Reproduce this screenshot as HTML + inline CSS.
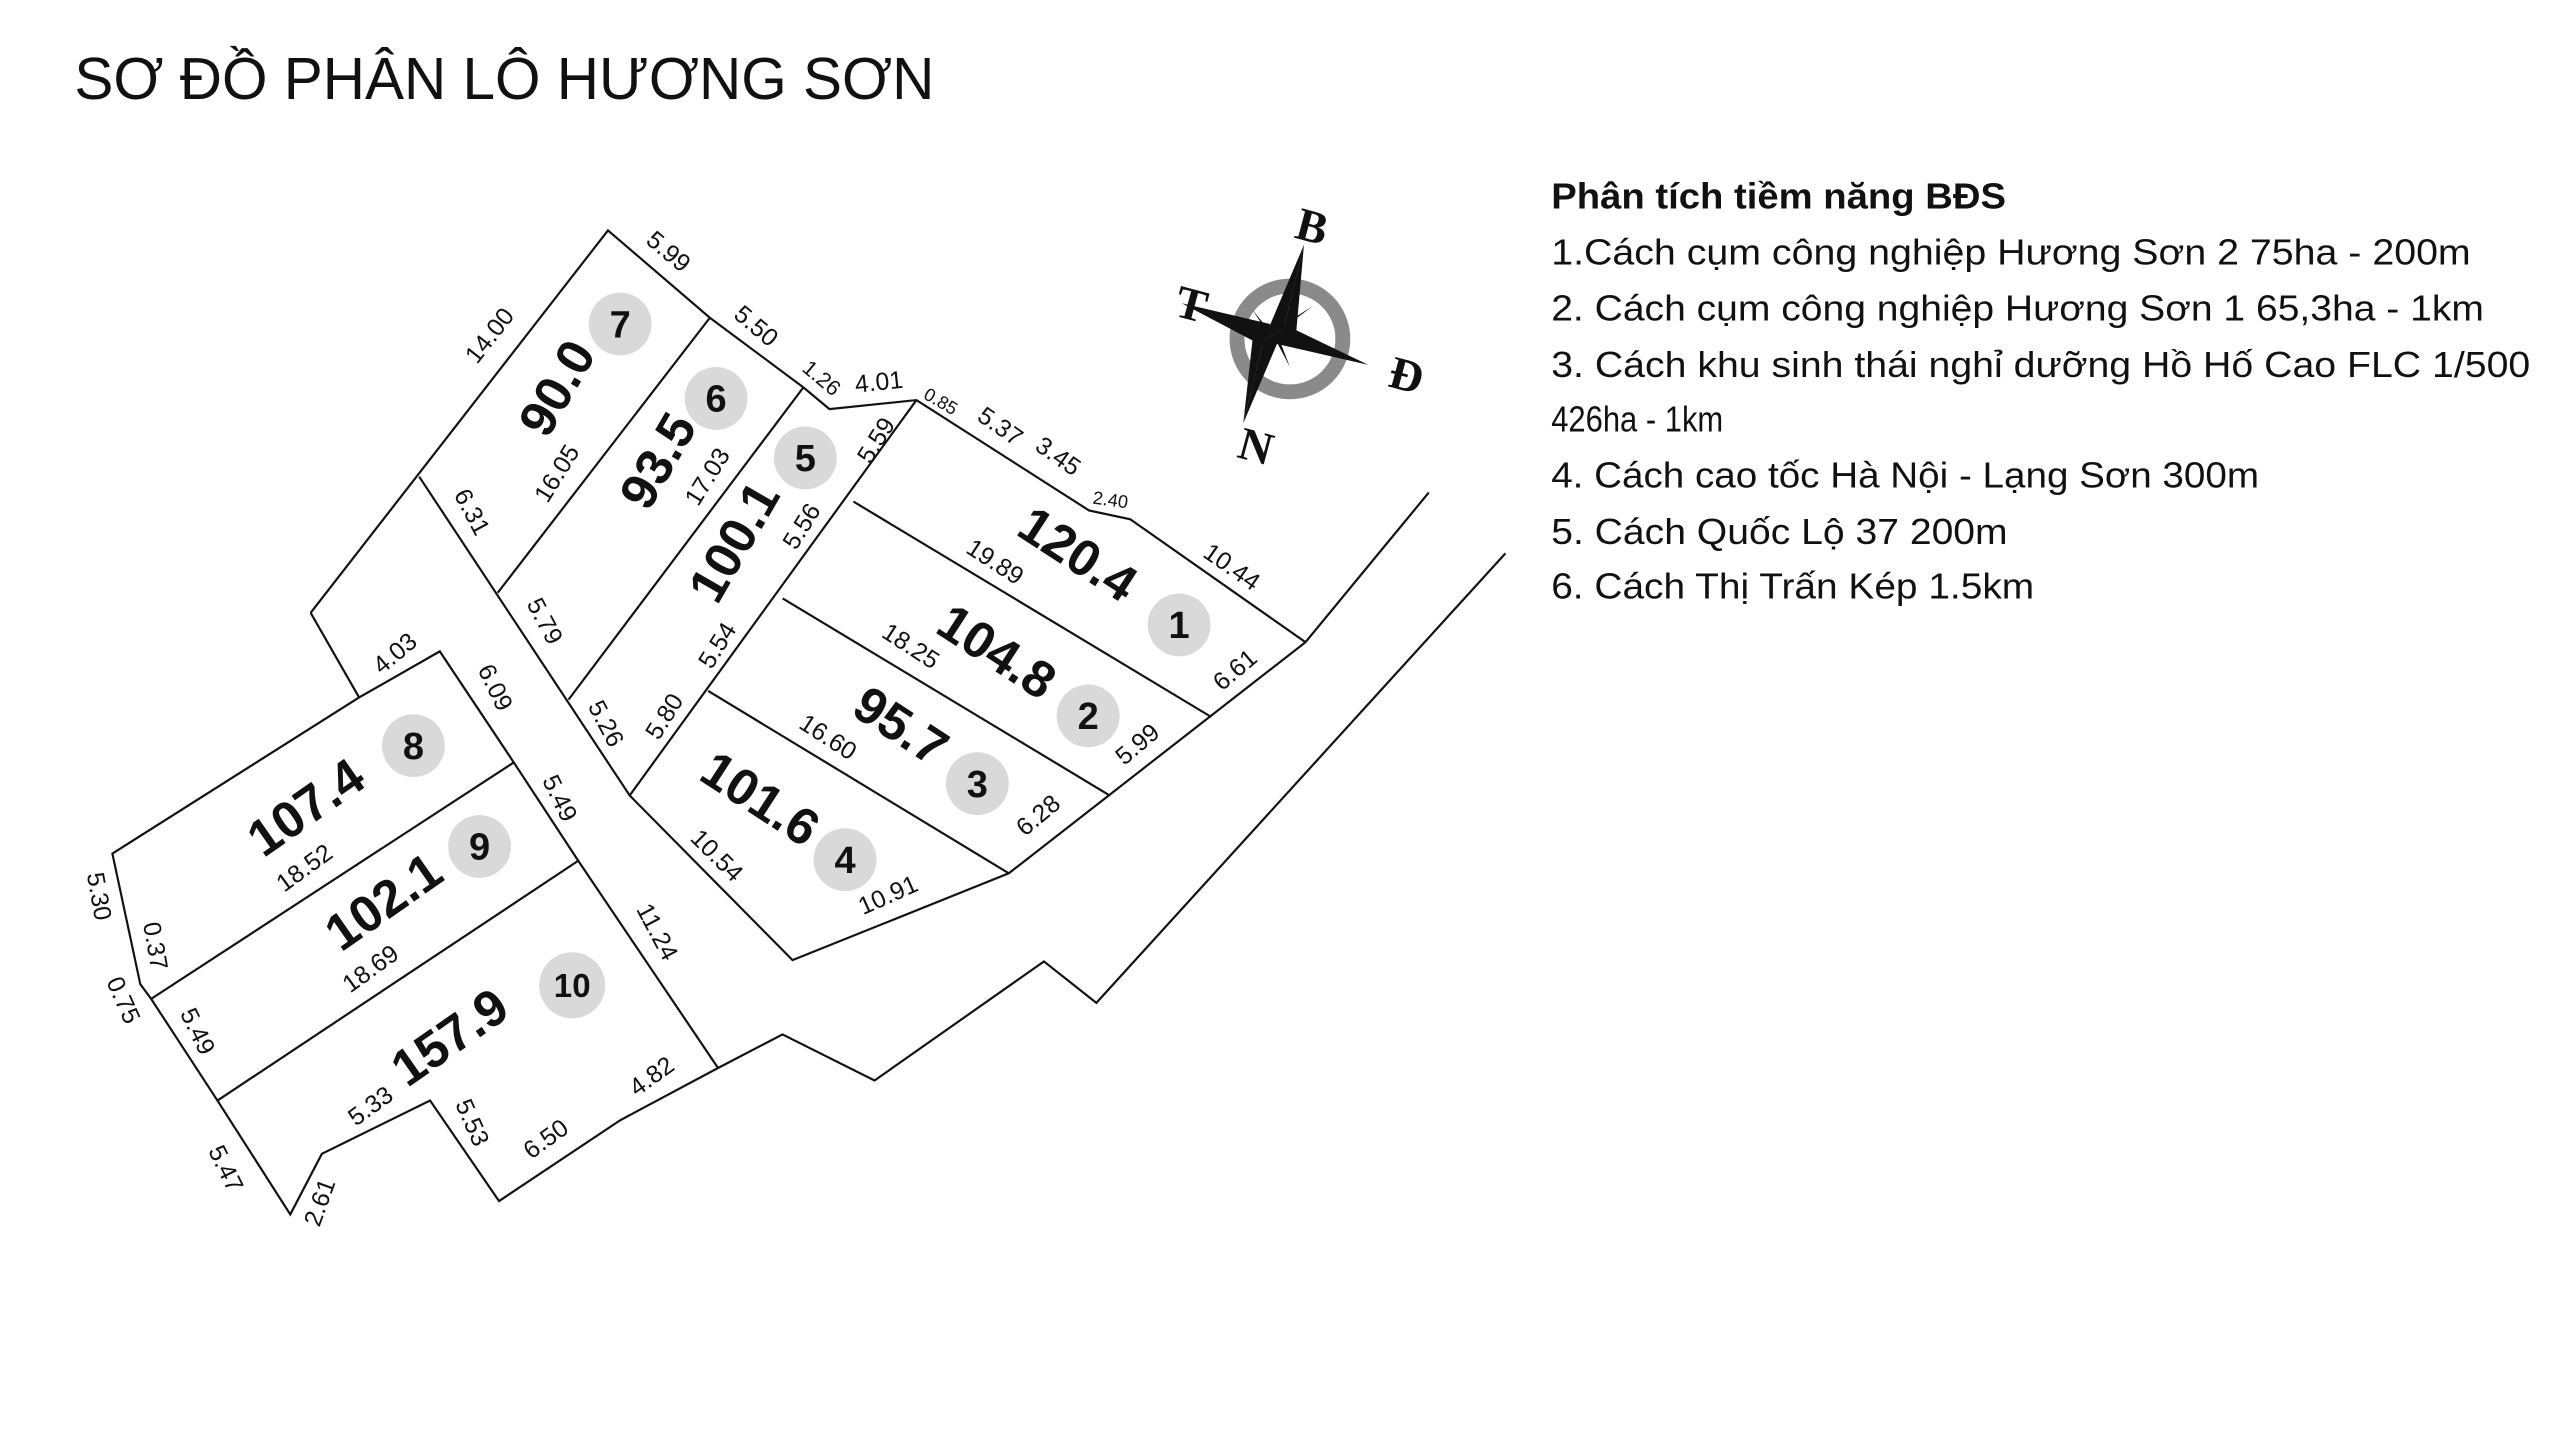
<!DOCTYPE html>
<html><head><meta charset="utf-8"><style>
html,body{margin:0;padding:0;background:#fff;}
svg{display:block;}
text{font-family:"Liberation Sans",sans-serif;fill:#111;}
.d{font-size:15px;}
.s{font-size:11px;}
.a{font-size:31px;font-weight:bold;}
.c{font-size:23px;font-weight:bold;}
.r{font-size:22px;}
.cp{font-family:"Liberation Serif",serif;font-weight:bold;font-size:28px;}
</style></head><body>
<svg width="2560" height="1440" viewBox="0 0 1548 871" preserveAspectRatio="none" xmlns="http://www.w3.org/2000/svg">
<rect width="1548" height="871" fill="#fff"/>
<text x="45" y="60" style="font-size:36px" textLength="520" lengthAdjust="spacingAndGlyphs">SƠ ĐỒ PHÂN LÔ HƯƠNG SƠN</text>

<g transform="translate(1,1) scale(1.01)" fill="none" stroke="#111" stroke-width="1.3" stroke-linejoin="miter">
<polyline points="185,366 363,137 424,189.3 480,231 495.6,244 547.7,238.6 651,304.7 675.7,310 780.6,383.6"/>
<polyline points="185,366 214,416.7"/>
<polyline points="250,284.5 376,475.4 473.5,574 603,522 780.6,383.6 854.4,294"/>
<line x1="424" y1="189.3" x2="297" y2="354"/>
<line x1="480" y1="231" x2="339.4" y2="418"/>
<line x1="547.7" y1="238.6" x2="376" y2="475.4"/>
<line x1="510" y1="299.4" x2="724.2" y2="428.4"/>
<line x1="467.6" y1="357.4" x2="662.6" y2="474.9"/>
<line x1="423" y1="412.8" x2="603" y2="522"/>
<polyline points="900.3,330.4 655.4,599.6 624,574.8 522.6,646.1 467.5,618.5 428.9,638.6 370.3,669.9 297.8,718.3 256.5,658.1 191.7,690 172.8,726.3 129.2,658.1 89.5,597.2 83,588.4 66.3,510.2 214,416.7 262.3,389.1 306.6,455.6 345.2,514.5 428.9,638.6"/>
<line x1="306.6" y1="455.6" x2="89.5" y2="597.2"/>
<line x1="345.2" y1="514.5" x2="129.2" y2="658.1"/>
</g>

<g text-anchor="middle">
<text class="d" transform="translate(300,206) rotate(-52)">14.00</text>
<text class="d" transform="translate(401,156) rotate(40)">5.99</text>
<text class="d" transform="translate(454,201) rotate(40)">5.50</text>
<text class="d" style="font-size:13px" transform="translate(494,232) rotate(40)">1.26</text>
<text class="d" transform="translate(532,236) rotate(-6)">4.01</text>
<text class="s" transform="translate(567,246) rotate(30)">0.85</text>
<text class="d" transform="translate(602,262) rotate(35)">5.37</text>
<text class="d" transform="translate(637,280) rotate(35)">3.45</text>
<text class="s" transform="translate(671,306) rotate(8)">2.40</text>
<text class="d" transform="translate(742,347) rotate(35)">10.44</text>
<text class="d" transform="translate(750,409) rotate(-40)">6.61</text>
<text class="d" transform="translate(691,454) rotate(-40)">5.99</text>
<text class="d" transform="translate(631,497) rotate(-40)">6.28</text>
<text class="d" transform="translate(539,546) rotate(-24)">10.91</text>
<text class="d" transform="translate(430,521) rotate(45)">10.54</text>
<text class="d" transform="translate(498,450) rotate(33)">16.60</text>
<text class="d" transform="translate(548,395) rotate(33)">18.25</text>
<text class="d" transform="translate(599,344) rotate(33)">19.89</text>
<text class="d" transform="translate(534,269) rotate(-58)">5.59</text>
<text class="d" transform="translate(489,321) rotate(-58)">5.56</text>
<text class="d" transform="translate(438,393) rotate(-58)">5.54</text>
<text class="d" transform="translate(406,436) rotate(-58)">5.80</text>
<text class="d" transform="translate(432,291) rotate(-58)">17.03</text>
<text class="d" transform="translate(341,289) rotate(-58)">16.05</text>
<text class="d" transform="translate(281,312) rotate(62)">6.31</text>
<text class="d" transform="translate(325,378) rotate(62)">5.79</text>
<text class="d" transform="translate(362,440) rotate(62)">5.26</text>
<text class="d" transform="translate(242,399) rotate(-40)">4.03</text>
<text class="d" transform="translate(295,418) rotate(64)">6.09</text>
<text class="d" transform="translate(334,485) rotate(64)">5.49</text>
<text class="d" transform="translate(393,566) rotate(62)">11.24</text>
<text class="d" transform="translate(187,529) rotate(-36)">18.52</text>
<text class="d" transform="translate(227,590) rotate(-36)">18.69</text>
<text class="d" transform="translate(55,543) rotate(80)">5.30</text>
<text class="d" transform="translate(89,573) rotate(80)">0.37</text>
<text class="d" transform="translate(70,607) rotate(66)">0.75</text>
<text class="d" transform="translate(115,626) rotate(64)">5.49</text>
<text class="d" transform="translate(132,709) rotate(64)">5.47</text>
<text class="d" transform="translate(198,729) rotate(-70)">2.61</text>
<text class="d" transform="translate(227,673) rotate(-36)">5.33</text>
<text class="d" transform="translate(281,681) rotate(66)">5.53</text>
<text class="d" transform="translate(333,693) rotate(-36)">6.50</text>
<text class="d" transform="translate(397,655) rotate(-36)">4.82</text>

<text class="a" transform="translate(346,240) rotate(-60)">90.0</text>
<text class="a" transform="translate(407,284) rotate(-60)">93.5</text>
<text class="a" transform="translate(453,333) rotate(-60)">100.1</text>
<text class="a" transform="translate(646,344) rotate(33)">120.4</text>
<text class="a" transform="translate(597,403) rotate(33)">104.8</text>
<text class="a" transform="translate(539,448) rotate(33)">95.7</text>
<text class="a" transform="translate(454,492) rotate(33)">101.6</text>
<text class="a" transform="translate(191,497) rotate(-35)">107.4</text>
<text class="a" transform="translate(238,554) rotate(-35)">102.1</text>
<text class="a" transform="translate(278,636) rotate(-35)">157.9</text>
</g>

<g fill="#d9d9d9">
<circle cx="375" cy="196" r="19"/><circle cx="433" cy="241" r="19"/><circle cx="487" cy="277" r="19"/>
<circle cx="713" cy="378" r="19"/><circle cx="658" cy="433" r="19"/><circle cx="591" cy="474" r="19"/>
<circle cx="511" cy="520" r="19"/><circle cx="250" cy="451" r="19"/><circle cx="290" cy="512" r="19"/>
<circle cx="346" cy="596" r="20"/>
</g>
<g text-anchor="middle">
<text class="c" x="375" y="204">7</text><text class="c" x="433" y="249">6</text><text class="c" x="487" y="285">5</text>
<text class="c" x="713" y="386">1</text><text class="c" x="658" y="441">2</text><text class="c" x="591" y="482">3</text>
<text class="c" x="511" y="528">4</text><text class="c" x="250" y="459">8</text><text class="c" x="290" y="520">9</text>
<text class="c" x="346" y="603" style="font-size:20px">10</text>
</g>

<!-- compass -->
<g>
<circle cx="780" cy="205" r="32" fill="none" stroke="#8a8a8a" stroke-width="9"/>
<polygon points="788.5,148 776,199 764,206" fill="#111"/>
<polygon points="788.5,148 776,199 783,210" fill="#111"/>
<polygon points="751.8,256 764,206 776,199" fill="#111"/>
<polygon points="751.8,256 764,206 758,200" fill="#111"/>
<polygon points="714.6,183.4 768,196 765,210" fill="#111"/>
<polygon points="827.4,220.7 772,208 776,196" fill="#111"/>
<polygon points="757,187 770,203 765,199" fill="#111"/>
<polygon points="794,185 770,203 775,197" fill="#111"/>
<polygon points="755,215 770,203 765,208" fill="#111"/>
<polygon points="780,222 770,203 775,209" fill="#111"/>
<text class="cp" transform="translate(791,146) rotate(15)" text-anchor="middle">B</text>
<text class="cp" transform="translate(718,193) rotate(15)" text-anchor="middle">T</text>
<text class="cp" transform="translate(848,236) rotate(15)" text-anchor="middle">Đ</text>
<text class="cp" transform="translate(757,279) rotate(15)" text-anchor="middle">N</text>
</g>

<g class="r">
<text x="938" y="126" style="font-weight:bold;font-size:22px" textLength="275" lengthAdjust="spacingAndGlyphs">Phân tích tiềm năng BĐS</text>
<text class="r" x="938" y="160" textLength="556" lengthAdjust="spacingAndGlyphs">1.Cách cụm công nghiệp Hương Sơn 2 75ha - 200m</text>
<text class="r" x="938" y="194" textLength="564" lengthAdjust="spacingAndGlyphs">2. Cách cụm công nghiệp Hương Sơn 1 65,3ha - 1km</text>
<text class="r" x="938" y="228" textLength="592" lengthAdjust="spacingAndGlyphs">3. Cách khu sinh thái nghỉ dưỡng Hồ Hố Cao FLC 1/500</text>
<text class="r" x="938" y="261" textLength="104" lengthAdjust="spacingAndGlyphs">426ha - 1km</text>
<text class="r" x="938" y="295" textLength="428" lengthAdjust="spacingAndGlyphs">4. Cách cao tốc Hà Nội - Lạng Sơn 300m</text>
<text class="r" x="938" y="329" textLength="276" lengthAdjust="spacingAndGlyphs">5. Cách Quốc Lộ 37 200m</text>
<text class="r" x="938" y="362" textLength="292" lengthAdjust="spacingAndGlyphs">6. Cách Thị Trấn Kép 1.5km</text>
</g>
</svg>
</body></html>
